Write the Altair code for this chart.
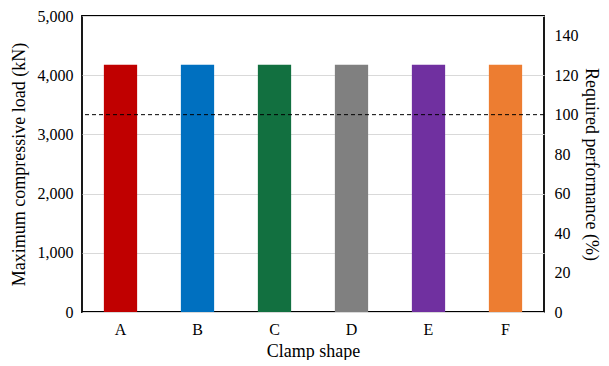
import altair as alt
import pandas as pd

shapes = ["A", "B", "C", "D", "E", "F"]
loads = [4175, 4175, 4175, 4175, 4175, 4175]
colors = ["#C00000", "#0070C0", "#127040", "#808080", "#7030A0", "#ED7D31"]
required_pct = [100]

df = pd.DataFrame({"shape": shapes, "load": loads, "color": colors})
ref = pd.DataFrame({"pct": required_pct})

FONT = "Liberation Serif"
common = dict(labelFont=FONT, titleFont=FONT, labelFontSize=16, titleFontSize=18,
              labelColor="black", titleColor="black", titleFontWeight="normal",
              ticks=False, domain=False)

bars = alt.Chart(df).mark_bar(width={"band": 0.48}).encode(
    x=alt.X("shape:N", title="Clamp shape", sort=shapes,
            axis=alt.Axis(labelAngle=0, labelPadding=9, titlePadding=5, **common)),
    y=alt.Y("load:Q", title="Maximum compressive load (kN)",
            scale=alt.Scale(domain=[0, 5000], nice=False),
            axis=alt.Axis(values=[0, 1000, 2000, 3000, 4000, 5000], format=",.0f",
                          labelPadding=9, titlePadding=9,
                          grid=True, gridColor="#d9d9d9", **common)),
    color=alt.Color("color:N", scale=None),
)

rule = alt.Chart(ref).mark_rule(color="black", strokeDash=[4, 3], strokeWidth=1).encode(
    y=alt.Y("pct:Q", title="Required performance (%)",
            scale=alt.Scale(domain=[0, 150], nice=False),
            axis=alt.Axis(orient="right", values=[0, 20, 40, 60, 80, 100, 120, 140],
                          grid=False, labelPadding=10, titlePadding=3, **common)),
)

chart = alt.layer(bars, rule).resolve_scale(y="independent").properties(
    width=462, height=296,
    autosize=alt.AutoSizeParams(type="none"),
    padding={"left": 74, "top": 8, "right": 57, "bottom": 48},
).configure_view(
    stroke="black", strokeWidth=1.8
)

chart.save("out.html", embed_options={"renderer": "svg", "actions": False})
